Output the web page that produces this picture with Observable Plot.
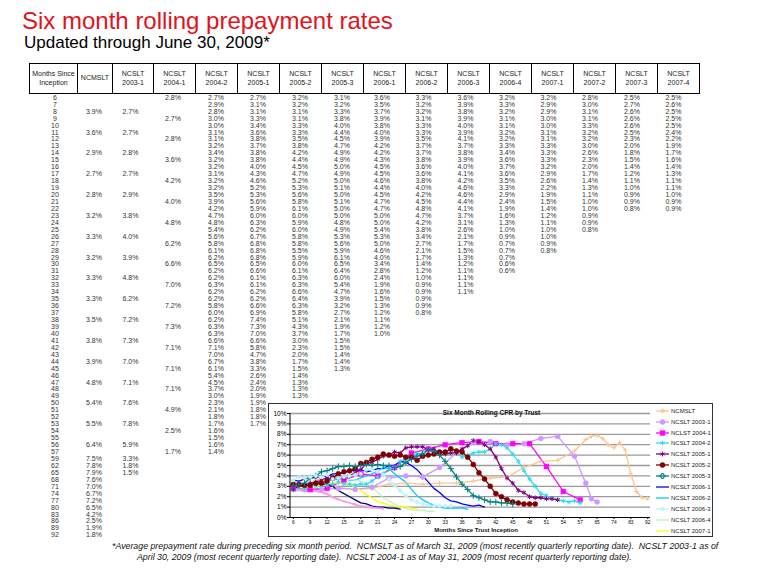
<!DOCTYPE html>
<html><head><meta charset="utf-8">
<script src="https://cdn.jsdelivr.net/npm/d3@7"></script>
<script src="https://cdn.jsdelivr.net/npm/@observablehq/plot@0.6"></script>
<style>
body{margin:0;background:#fff;font-family:"Liberation Sans",Arial,sans-serif;}
#page{position:relative;width:780px;height:585px;overflow:hidden;background:#fff;}
.abs{position:absolute;white-space:pre;line-height:1;}
.hdr{position:absolute;box-sizing:border-box;border:1.2px solid #000;display:flex;align-items:center;justify-content:center;text-align:center;font-size:7px;line-height:1.2;color:#222;}
.cell{position:absolute;width:40px;text-align:center;font-size:7px;line-height:7px;color:#333;white-space:nowrap;}
.leg{position:absolute;left:0;display:flex;align-items:center;font-size:6px;color:#222;white-space:nowrap;}
</style></head><body><div id="page"></div>
<script>
// ---------- DATA ----------
const months = [6,7,8,9,10,11,12,13,14,15,16,17,18,19,20,21,22,23,24,25,26,27,28,29,30,31,32,33,34,35,36,37,38,39,40,41,42,43,44,45,46,47,48,49,50,51,52,53,54,55,56,57,59,62,65,68,71,74,77,80,83,86,89,92];
const xTickMonths = [6,9,12,15,18,21,24,27,30,33,36,39,42,45,48,51,54,57,65,74,83,92];
const yTicks = [0,1,2,3,4,5,6,7,8,9,10];

const headers = ["Months Since\nInception","NCMSLT","NCSLT\n2003-1","NCSLT\n2004-1","NCSLT\n2004-2","NCSLT\n2005-1","NCSLT\n2005-2","NCSLT\n2005-3","NCSLT\n2006-1","NCSLT\n2006-2","NCSLT\n2006-3","NCSLT\n2006-4","NCSLT\n2007-1","NCSLT\n2007-2","NCSLT\n2007-3","NCSLT\n2007-4"];
// legend entries visible in the chart box (the rest is clipped in the original)
const legendLabels = ["NCMSLT","NCSLT 2003-1","NCLST 2004-1","NCSLT 2004-2","NCSLT 2005-1","NCSLT 2005-2","NCSLT 2005-3","NCSLT 2006-1","NCSLT 2006-2","NCSLT 2006-3","NCSLT 2006-4","NCSLT 2007-1"];

// quarterly series (month, value)
const ncmsltMonths = [8,11,14,17,20,23,26,29,32,35,38,41,44,47,50,53,56,59,62,65,68,71,74,77,80,83,86,89,92];
const ncmsltValues = [3.9,3.6,2.9,2.7,2.8,3.2,3.3,3.2,3.3,3.3,3.5,3.8,3.9,4.8,5.4,5.5,6.4,7.5,7.8,7.9,7.6,7.0,6.7,7.2,6.5,4.2,2.5,1.9,1.8];
const ncslt20031Months = [8,11,14,17,20,23,26,29,32,35,38,41,44,47,50,53,56,59,62,65];
const ncslt20031Values = [2.7,2.7,2.8,2.7,2.9,3.8,4.0,3.9,4.8,6.2,7.2,7.3,7.0,7.1,7.6,7.8,5.9,3.3,1.8,1.5];
const ncslt20041Months = [6,9,12,15,18,21,24,27,30,33,36,39,42,45,48,51,54,57];
const ncslt20041Values = [2.8,2.7,2.8,3.6,4.2,4.0,4.8,6.2,6.6,7.0,7.2,7.3,7.1,7.1,7.1,4.9,2.5,1.7];

// monthly series, starting at month 6
const ncslt20042 = [2.7,2.9,2.8,3.0,3.0,3.1,3.1,3.2,3.4,3.2,3.2,3.1,3.2,3.2,3.5,3.9,4.2,4.7,4.8,5.4,5.6,5.8,6.1,6.2,6.5,6.2,6.2,6.3,6.2,6.2,5.8,6.0,6.2,6.3,6.3,6.6,7.1,7.0,6.7,6.1,5.4,4.5,3.7,3.0,2.3,2.1,1.8,1.7,1.6,1.5,1.6,1.4];
const ncslt20051 = [2.7,3.1,3.1,3.3,3.4,3.6,3.8,3.7,3.8,3.8,4.0,4.3,4.6,5.2,5.3,5.6,5.9,6.0,6.3,6.2,6.7,6.8,6.8,6.8,6.5,6.6,6.1,6.1,6.2,6.2,6.6,6.9,7.4,7.3,7.0,6.6,5.8,4.7,3.8,3.3,2.6,2.4,2.0,1.9,1.9,1.8,1.8,1.7];
const ncslt20052 = [3.2,3.2,3.1,3.1,3.3,3.3,3.5,3.8,4.2,4.4,4.5,4.7,5.2,5.3,5.6,5.8,6.1,6.0,5.9,6.0,5.8,5.8,5.5,5.9,6.0,6.1,6.3,6.3,6.6,6.4,6.3,5.8,5.1,4.3,3.7,3.0,2.3,2.0,1.7,1.5,1.4,1.3,1.3,1.3];
const ncslt20053 = [3.1,3.2,3.3,3.8,4.0,4.4,4.5,4.7,4.9,4.9,5.0,4.9,5.0,5.1,5.0,5.1,5.0,5.0,4.8,4.9,5.3,5.6,5.9,6.1,6.5,6.4,6.0,5.4,4.7,3.9,3.2,2.7,2.1,1.9,1.7,1.5,1.5,1.4,1.4,1.3];
const ncslt20061 = [3.6,3.5,3.7,3.9,3.8,4.0,3.9,4.2,4.2,4.3,4.5,4.5,4.6,4.4,4.5,4.7,4.7,5.0,5.0,5.4,5.3,5.0,4.6,4.0,3.4,2.8,2.4,1.9,1.6,1.5,1.3,1.2,1.1,1.2,1.0];
const ncslt20062 = [3.3,3.2,3.2,3.1,3.3,3.3,3.5,3.7,3.7,3.8,3.6,3.6,3.8,4.0,4.2,4.5,4.8,4.7,4.2,3.8,3.4,2.7,2.1,1.7,1.4,1.2,1.0,0.9,0.9,0.9,0.9,0.8];
const ncslt20063 = [3.6,3.9,3.8,3.9,4.0,3.9,4.1,3.7,3.8,3.9,4.0,4.1,4.2,4.6,4.6,4.4,4.1,3.7,3.1,2.6,2.1,1.7,1.5,1.3,1.2,1.1,1.1,1.1,1.1];
const ncslt20064 = [3.2,3.3,3.2,3.1,3.1,3.2,3.2,3.3,3.4,3.6,3.7,3.6,3.5,3.3,2.9,2.4,1.9,1.6,1.3,1.0,0.9,0.7,0.7,0.7,0.6,0.6];
const ncslt20071 = [3.2,2.9,2.9,3.0,3.0,3.1,3.1,3.3,3.3,3.3,3.2,2.9,2.6,2.2,1.9,1.5,1.4,1.2,1.1,1.0,1.0,0.9,0.8];
const ncslt20072 = [2.8,3.0,3.1,3.1,3.3,3.2,3.2,3.0,2.6,2.3,2.0,1.7,1.4,1.3,1.1,1.0,1.0,0.9,0.9,0.8];
const ncslt20073 = [2.5,2.7,2.6,2.6,2.6,2.5,2.3,2.0,1.8,1.5,1.4,1.2,1.1,1.0,0.9,0.9,0.8];
const ncslt20074 = [2.5,2.6,2.5,2.5,2.5,2.4,2.2,1.9,1.7,1.6,1.4,1.3,1.1,1.1,1.0,0.9,0.9];

const footLine1 = "*Average prepayment rate during preceding six month period.  NCMSLT as of March 31, 2009 (most recently quarterly reporting date).  NCSLT 2003-1 as of";
const footLine2 = "April 30, 2009 (most recent quarterly reporting date).  NCSLT 2004-1 as of May 31, 2009 (most recent quarterly reporting date).";

// ---------- STYLE (separate from data) ----------
const seriesColors = ["#FFC48C","#CC99FF","#FF00FF","#2EDDF2","#800080","#800000","#008080","#0000FF","#00CCFF","#BDF3FF","#BFF5BF","#FFFF00","#000080","#FF99CC","#F2A2EC"];
const seriesMarkers = ["plus","circle","square","asterisk","asterisk","circle","plus",null,null,"circle",null,null,null,null,null];
const markerSizes = [1.6,2.5,2.7,2.2,2.2,2.5,2.2,0,0,1.8,0,0,0,0,0];

// ---------- assemble series ----------
const monthlyLists = [ncslt20042,ncslt20051,ncslt20052,ncslt20053,ncslt20061,ncslt20062,ncslt20063,ncslt20064,ncslt20071,ncslt20072,ncslt20073,ncslt20074];
const seriesPts = [
  ncmsltMonths.map((m,i)=>({month:m,value:ncmsltValues[i]})),
  ncslt20031Months.map((m,i)=>({month:m,value:ncslt20031Values[i]})),
  ncslt20041Months.map((m,i)=>({month:m,value:ncslt20041Values[i]})),
  ...monthlyLists.map(arr => arr.map((v,i)=>({month:months[i],value:v})))
];
const seriesMaps = seriesPts.map(pts => new Map(pts.map(p=>[p.month,p.value])));

const page = document.getElementById("page");
function addDiv(cls, css, text, parent){
  const d = document.createElement("div");
  d.className = cls; d.style.cssText = css; d.textContent = text; (parent||page).appendChild(d); return d;
}

// titles
addDiv("abs","left:22px;top:8.6px;font-size:24px;color:#E3121B;","Six month rolling prepayment rates");
addDiv("abs","left:24px;top:33.8px;font-size:17px;color:#000;","Updated through June 30, 2009*");

// table header
const colEdges = [29,77,112,153,195,237,279,321,363,405,447,489,531,573,615,657,699];
headers.forEach((h,i)=>{
  addDiv("hdr",`left:${colEdges[i]}px;top:63px;width:${colEdges[i+1]-colEdges[i]+1}px;height:31px;white-space:pre;`,h);
});

// table body
const colX = [55,94,130.5,173,216,258,300,342,382,423.5,465.5,507,548.5,590,632,673.5];
const rowY = i => 97.3 + i*6.945;
months.forEach((m,i)=>{
  addDiv("cell",`left:${colX[0]-20}px;top:${rowY(i)-3.5}px;`,String(m));
  seriesMaps.forEach((mp,s)=>{
    if (mp.has(m)) addDiv("cell",`left:${colX[s+1]-20}px;top:${rowY(i)-3.5}px;`,mp.get(m).toFixed(1)+"%");
  });
});

// chart box
addDiv("abs","left:268px;top:403px;width:445px;height:134px;box-sizing:border-box;border:1px solid #333;background:#fff;","");

const lineMarks = seriesPts.map((pts,s)=>Plot.line(pts,{x:"month",y:"value",stroke:seriesColors[s],strokeWidth:1.3}));
const dotMarks = seriesPts.map((pts,s)=>{
  const mk = seriesMarkers[s];
  if (!mk) return null;
  const filled = (mk==="circle"||mk==="square");
  return Plot.dot(pts,{x:"month",y:"value",symbol:mk,r:markerSizes[s],
    fill: filled ? seriesColors[s] : "none", stroke: seriesColors[s], strokeWidth: filled?0.5:1});
}).filter(Boolean);

const leftAxisLine = (index, scales, values, dims) => {
  return d3.create("svg:line")
    .attr("x1", dims.marginLeft).attr("x2", dims.marginLeft)
    .attr("y1", dims.marginTop).attr("y2", dims.height - dims.marginBottom)
    .attr("stroke","#000").attr("stroke-width",1).node();
};

const chart = Plot.plot({
  width: 385, height: 134,
  marginLeft: 22, marginRight: 3, marginTop: 10, marginBottom: 20,
  style: {background:"transparent", fontFamily:"Liberation Sans, Arial, sans-serif", color:"#000", overflow:"visible"},
  x: {type:"point", domain: months, padding: 0.5, axis: null, label: null},
  y: {domain:[0,10], axis: null, label: null},
  marks: [
    Plot.ruleY(yTicks.filter(d=>d>0), {stroke:"#9a9a9a", strokeWidth:1.3}),
    Plot.axisY(yTicks, {tickFormat: d => d + "%", tickSize: 3, tickPadding: 1, fontSize: 6.5, stroke:"#000", label: null}),
    Plot.axisX(xTickMonths, {tickSize: 2, tickPadding: 1.5, fontSize: 4.8, stroke:"#000", label: null}),
    ...lineMarks,
    ...dotMarks,
    Plot.ruleY([0], {stroke:"#000", strokeWidth:1}),
    leftAxisLine
  ]
});
chart.style.position = "absolute";
chart.style.left = "268px";
chart.style.top = "403px";
page.appendChild(chart);

// chart title & axis title
addDiv("abs","left:491.5px;top:413.3px;transform:translate(-50%,-50%);font-size:6.5px;font-weight:bold;color:#111;","Six Month Rolling CPR by Trust");
addDiv("abs","left:476px;top:530px;transform:translate(-50%,-50%);font-size:6px;font-weight:bold;color:#111;","Months Since Trust Inception");

// legend
const legBox = addDiv("abs","left:655px;top:404px;width:57px;height:132px;overflow:hidden;","");
legendLabels.forEach((lab,s)=>{
  const row = document.createElement("div");
  row.className = "leg";
  row.style.top = (6.7 + s*10.9 - 4) + "px";
  row.style.height = "8px";
  const svg = d3.create("svg").attr("width",15).attr("height",8).style("margin-right","1px");
  svg.append("line").attr("x1",1).attr("x2",14).attr("y1",4).attr("y2",4).attr("stroke",seriesColors[s]).attr("stroke-width",1.3);
  const mk = seriesMarkers[s];
  if (mk) {
    const sym = {circle:d3.symbolCircle,square:d3.symbolSquare,plus:d3.symbolCross,asterisk:d3.symbolAsterisk}[mk];
    const filled = (mk==="circle"||mk==="square");
    const size = Math.PI*markerSizes[s]*markerSizes[s];
    svg.append("path").attr("transform","translate(7.5,4)").attr("d",d3.symbol(sym,size)())
      .attr("fill",filled?seriesColors[s]:"none").attr("stroke",seriesColors[s]).attr("stroke-width",filled?0.5:1);
  }
  row.appendChild(svg.node());
  const t = document.createElement("span"); t.textContent = lab; row.appendChild(t);
  legBox.appendChild(row);
});

// footnote
addDiv("abs","left:112px;top:541.5px;font-size:8.8px;font-style:italic;color:#111;",footLine1);
addDiv("abs","left:137px;top:552.5px;font-size:8.8px;font-style:italic;color:#111;",footLine2);
</script>
</body></html>
